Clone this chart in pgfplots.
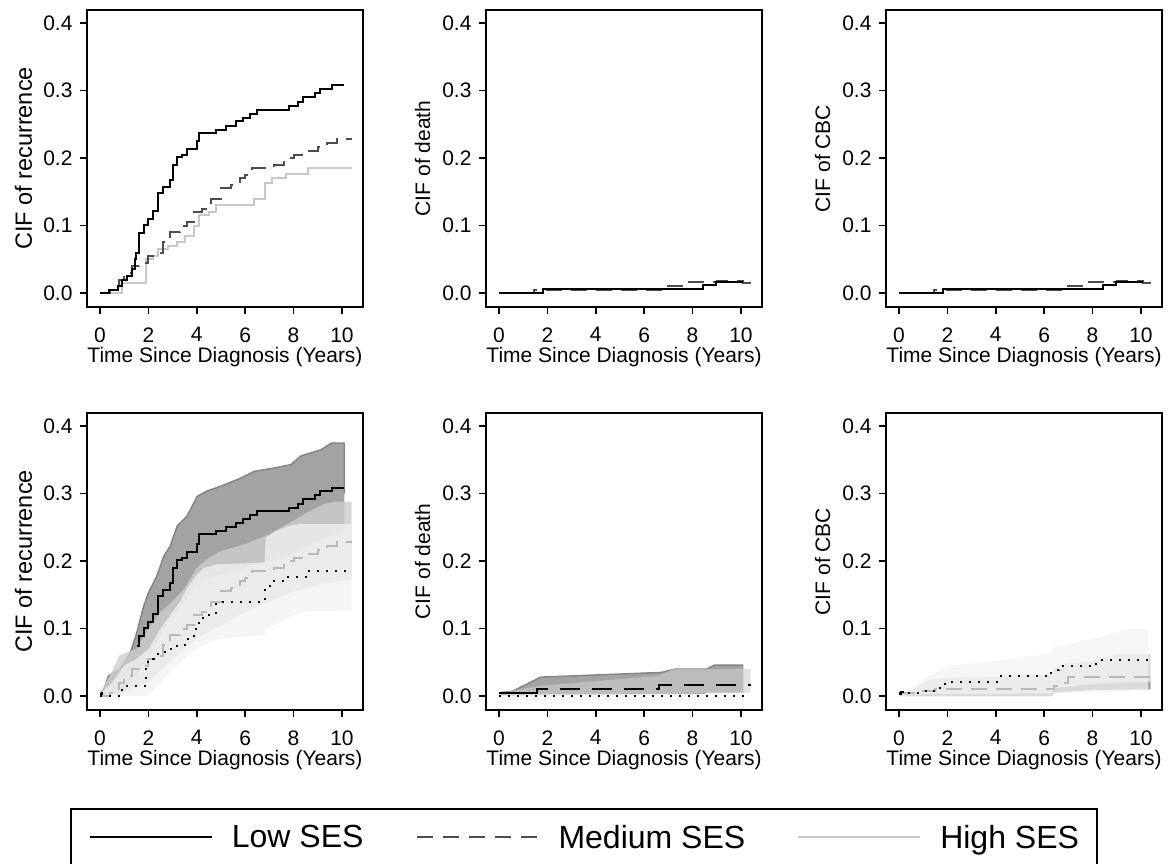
\documentclass[border=0pt]{standalone}
\usepackage{fontspec}
\setmainfont{Liberation Sans}
\usepackage{pgfplots}
\pgfplotsset{compat=1.18}
\definecolor{medgray}{HTML}{4D4D4D}
\definecolor{higray}{HTML}{C8C8C8}
\definecolor{lowband}{HTML}{A3A3A3}
\definecolor{lowedge}{HTML}{858585}
\definecolor{medband}{HTML}{CDCDCD}
\definecolor{hiband}{HTML}{F2F2F2}
\definecolor{medlinecol}{HTML}{B8B8B8}
\pgfplotsset{
  cif/.style={
    scale only axis, width=276pt, height=297pt,
    xmin=-0.54, xmax=10.87, ymin=-0.0207, ymax=0.4195,
    xtick={0,2,4,6,8,10}, ytick={0,0.1,0.2,0.3,0.4},
    /pgf/number format/assume math mode=true,
    yticklabel style={/pgf/number format/fixed,/pgf/number format/fixed zerofill,/pgf/number format/precision=1, xshift=-4pt},
    xticklabel style={yshift=-10pt},
    tick align=outside, xtick pos=left, ytick pos=left,
    major tick length=7pt,
    every tick/.style={line width=1.5pt, black},
    axis line style={line width=1.8pt, black},
    ticklabel style={font=\fontsize{21}{24}\selectfont},
    label style={font=\fontsize{21}{24}\selectfont},
    xlabel={Time Since Diagnosis (Years)},
    xlabel style={at={(axis description cs:0.5,-0.186)}, anchor=base},
    ylabel style={at={(axis description cs:-0.23,0.5)}, anchor=center},
    every axis plot/.append style={line width=2pt},
    axis on top,
  },
  biglabel/.style={ylabel style={font=\fontsize{23.5}{27}\selectfont}},
  lowline/.style={black, const plot, mark=none},
  medline/.style={medgray, const plot, mark=none, dash pattern=on 16pt off 9pt},
  hiline/.style={higray, const plot, mark=none},
  band/.style={draw=none, fill=#1, mark=none, forget plot},
}
\begin{document}
\begin{tikzpicture}
\useasboundingbox (0,0) rectangle (1175pt,-863pt);
% ---------------- Top left: recurrence
\begin{axis}[cif, biglabel, at={(87pt,-10pt)}, anchor=north west, ylabel={CIF of recurrence}]
\addplot[hiline] coordinates {(0,0)(0.9,0.015)(1.9,0.05)(2.2,0.055)(2.4,0.065)(2.8,0.07)(3.2,0.075)(3.5,0.085)(3.9,0.099)(4.1,0.115)(4.5,0.12)(4.8,0.131)(6.37,0.14)(6.8,0.163)(7.1,0.17)(7.7,0.176)(8.6,0.185)(10.4,0.185)};
\addplot[medline] coordinates {(0,0)(0.4,0.005)(0.6,0.01)(0.8,0.02)(1.0,0.03)(1.3,0.04)(1.6,0.044)(2.0,0.055)(2.3,0.06)(2.6,0.075)(2.9,0.09)(3.3,0.1)(3.6,0.105)(3.9,0.12)(4.2,0.125)(4.6,0.14)(5.0,0.155)(5.4,0.16)(5.8,0.17)(6.0,0.175)(6.3,0.185)(7.2,0.19)(7.6,0.2)(8.0,0.205)(8.6,0.21)(9.0,0.217)(9.4,0.222)(9.8,0.228)(10.4,0.228)};
\addplot[lowline] coordinates {(0,0)(0.35,0.005)(0.76,0.01)(0.9,0.02)(1.1,0.025)(1.3,0.035)(1.45,0.05)(1.5,0.06)(1.6,0.089)(1.8,0.101)(2.0,0.11)(2.2,0.121)(2.4,0.148)(2.6,0.157)(2.9,0.168)(3.0,0.19)(3.2,0.202)(3.4,0.205)(3.6,0.213)(4.0,0.225)(4.1,0.237)(4.8,0.242)(5.2,0.248)(5.6,0.255)(5.9,0.26)(6.2,0.265)(6.5,0.272)(7.8,0.277)(8.2,0.283)(8.4,0.29)(8.9,0.296)(9.1,0.302)(9.6,0.308)(10.1,0.308)};
\end{axis}
% ---------------- Top middle: death
\begin{axis}[cif, at={(486pt,-10pt)}, anchor=north west, ylabel={CIF of death}]
\addplot[medline] coordinates {(0,0)(1.45,0.005)(6.75,0.011)(7.7,0.016)(9.0,0.018)(10.1,0.015)(10.4,0.015)};
\addplot[lowline] coordinates {(0,0)(1.8,0.006)(8.45,0.012)(8.96,0.017)(10.1,0.017)};
\end{axis}
% ---------------- Top right: CBC
\begin{axis}[cif, at={(886pt,-10pt)}, anchor=north west, ylabel={CIF of CBC}]
\addplot[medline] coordinates {(0,0)(1.45,0.005)(6.75,0.011)(7.7,0.016)(9.0,0.018)(10.1,0.015)(10.4,0.015)};
\addplot[lowline] coordinates {(0,0)(1.8,0.006)(8.45,0.012)(8.96,0.017)(10.1,0.017)};
\end{axis}
% ---------------- Bottom left: recurrence with CI
\begin{axis}[cif, biglabel, at={(87pt,-413pt)}, anchor=north west, ylabel={CIF of recurrence}]
\addplot[band=lowband] coordinates {(0,0.005)(0.14,0.008)(0.35,0.03)(0.83,0.04)(1.25,0.064)(1.52,0.094)(1.8,0.133)(2.0,0.153)(2.35,0.178)(2.63,0.207)(2.9,0.222)(3.19,0.252)(3.6,0.267)(4.02,0.296)(4.43,0.304)(4.99,0.311)(5.82,0.323)(6.37,0.333)(7.2,0.338)(7.89,0.343)(8.31,0.356)(9.14,0.365)(9.56,0.375)(10.1,0.375)(10.1,0.245)(9,0.23)(8,0.21)(7,0.2)(6,0.19)(5,0.18)(4,0.17)(3.5,0.14)(3,0.12)(2.5,0.09)(2,0.06)(1.5,0.03)(1,0.005)(0,0.0)} -- cycle;
\addplot[lowedge, line width=1.5pt, mark=none, forget plot] coordinates {(0,0.005)(0.14,0.008)(0.35,0.03)(0.83,0.04)(1.25,0.064)(1.52,0.094)(1.8,0.133)(2.0,0.153)(2.35,0.178)(2.63,0.207)(2.9,0.222)(3.19,0.252)(3.6,0.267)(4.02,0.296)(4.43,0.304)(4.99,0.311)(5.82,0.323)(6.37,0.333)(7.2,0.338)(7.89,0.343)(8.31,0.356)(9.14,0.365)(9.56,0.375)(10.1,0.375)(10.1,0.3)};
\addplot[band=medband, fill opacity=0.8] coordinates {(0,0.005)(0.4,0.03)(0.8,0.06)(1.5,0.07)(2.0,0.1)(2.5,0.125)(3.0,0.14)(3.5,0.16)(4.0,0.19)(4.5,0.205)(5.0,0.215)(6.0,0.225)(7.0,0.24)(7.5,0.25)(8.0,0.26)(8.7,0.275)(9.3,0.285)(9.7,0.288)(10.4,0.288)(10.4,0.173)(9,0.165)(8,0.155)(7,0.14)(6,0.125)(5,0.105)(4,0.085)(3,0.055)(2,0.02)(1,0.005)(0,0.0)} -- cycle;
\addplot[band=hiband, fill opacity=0.75] coordinates {(0,0.003)(0.5,0.02)(1,0.045)(1.5,0.055)(2,0.07)(2.5,0.1)(3,0.125)(3.3,0.14)(3.6,0.16)(4.0,0.18)(4.3,0.19)(4.8,0.195)(6.8,0.198)(6.85,0.235)(7.3,0.245)(7.8,0.252)(8.3,0.255)(10.4,0.255)(10.4,0.127)(8.5,0.125)(8,0.12)(7.5,0.11)(6.85,0.1)(6.8,0.09)(6,0.088)(5,0.085)(4.5,0.08)(4,0.07)(3.5,0.055)(3,0.04)(2.5,0.02)(2,0.0)(0,0.0)} -- cycle;
\addplot[lowline] coordinates {(1.52,0.074)(1.6,0.089)(1.8,0.101)(2.0,0.11)(2.2,0.121)(2.4,0.148)(2.6,0.157)(2.9,0.168)(3.0,0.19)(3.2,0.202)(3.4,0.205)(3.6,0.213)(4.0,0.225)(4.1,0.24)(4.8,0.244)(5.2,0.25)(5.6,0.256)(5.9,0.262)(6.2,0.268)(6.5,0.274)(7.8,0.279)(8.2,0.285)(8.4,0.292)(8.9,0.298)(9.1,0.304)(9.6,0.309)(10.1,0.309)};
\addplot[lowline] coordinates {(0,0.003)(0.08,0.005)(0.12,0.005)};
\addplot[color=medlinecol, const plot, mark=none, dash pattern=on 16pt off 9pt] coordinates {(0,0)(0.4,0.005)(0.6,0.01)(0.8,0.02)(1.0,0.03)(1.3,0.04)(1.6,0.044)(2.0,0.055)(2.3,0.06)(2.6,0.075)(2.9,0.09)(3.3,0.1)(3.6,0.105)(3.9,0.12)(4.2,0.125)(4.6,0.14)(5.0,0.155)(5.4,0.16)(5.8,0.17)(6.0,0.175)(6.3,0.185)(7.2,0.19)(7.6,0.2)(8.0,0.205)(8.6,0.21)(9.0,0.217)(9.4,0.222)(9.8,0.228)(10.4,0.228)};
\addplot[black, const plot, mark=none, dash pattern=on 2pt off 7pt] coordinates {(0,0)(0.9,0.015)(1.9,0.05)(2.2,0.055)(2.4,0.065)(2.8,0.07)(3.2,0.075)(3.5,0.085)(3.9,0.099)(4.1,0.115)(4.5,0.12)(4.8,0.14)(6.37,0.14)(6.8,0.163)(7.1,0.17)(7.7,0.176)(8.6,0.185)(10.4,0.185)};
\end{axis}
% ---------------- Bottom middle: death with CI
\begin{axis}[cif, at={(486pt,-413pt)}, anchor=north west, ylabel={CIF of death}]
\addplot[band=lowband] coordinates {(0,0.005)(0.55,0.007)(1.5,0.024)(1.7,0.028)(6.7,0.035)(7.3,0.04)(8.6,0.04)(8.9,0.046)(10.1,0.046)(10.1,0.005)(8.6,0.005)(8.5,0.003)(1.7,0.003)(0,0.002)} -- cycle;
\addplot[lowedge, line width=1.5pt, mark=none, forget plot] coordinates {(0,0.005)(0.55,0.007)(1.5,0.024)(1.7,0.028)(6.7,0.035)(7.3,0.04)(8.6,0.04)(8.9,0.046)(10.1,0.046)};
\addplot[band=medband, fill opacity=0.6] coordinates {(0,0.004)(1.6,0.015)(6.6,0.03)(7.2,0.04)(10.4,0.04)(10.4,0.005)(6.6,0.003)(0,0.0)} -- cycle;
\addplot[black, const plot, mark=none, dash pattern=on 2pt off 7pt] coordinates {(0,0)(10.3,0)};
\addplot[black, const plot, mark=none, dash pattern=on 20pt off 12pt] coordinates {(0,0.005)(1.55,0.01)(6.6,0.016)(10.4,0.016)};
\addplot[lowline] coordinates {(0,0.005)(1.55,0.01)(1.75,0.01)};
\end{axis}
% ---------------- Bottom right: CBC with CI
\begin{axis}[cif, at={(886pt,-413pt)}, anchor=north west, ylabel={CIF of CBC}]
\addplot[band=lowband] coordinates {(0,0.003)(6.3,0.004)(6.4,0.012)(8,0.018)(9,0.021)(10.4,0.022)(10.4,0.01)(8,0.009)(6.4,0.005)(6.3,0)(0,0)} -- cycle;
\addplot[band=medband, fill opacity=0.7] coordinates {(0,0.003)(0.5,0.008)(1.3,0.025)(2,0.027)(4,0.029)(6.3,0.032)(6.4,0.04)(6.7,0.047)(8,0.052)(9,0.062)(10.4,0.062)(10.4,0.02)(6.4,0.015)(6.3,0.005)(1.3,0.003)(0,0)} -- cycle;
\addplot[band=hiband, fill opacity=0.7] coordinates {(0,0.003)(0.5,0.012)(1,0.025)(1.5,0.035)(2,0.045)(3,0.048)(4,0.052)(5,0.057)(6.3,0.063)(6.35,0.073)(7,0.077)(8,0.085)(9,0.094)(9.6,0.1)(10.3,0.1)(10.3,0.008)(6.35,0.003)(6.3,0)(0,0)} -- cycle;
\addplot[color=medlinecol, const plot, mark=none, dash pattern=on 16pt off 9pt] coordinates {(0,0.005)(1.0,0.008)(1.5,0.01)(6.4,0.015)(6.8,0.02)(7.0,0.028)(10.4,0.028)};
\addplot[black, const plot, mark=none, dash pattern=on 2pt off 7pt] coordinates {(0,0.005)(1.1,0.008)(1.5,0.012)(1.9,0.021)(4.2,0.029)(6.3,0.038)(6.6,0.044)(8.0,0.048)(8.3,0.053)(10.3,0.053)};
\addplot[lowline] coordinates {(0,0.003)(0.1,0.006)(0.2,0.006)};
\end{axis}
% ---------------- Legend
\begin{axis}[hide axis, scale only axis, width=10pt, height=10pt, xmin=0, xmax=1, ymin=0, ymax=1,
  at={(70pt,-808pt)}, anchor=north west,
  legend image code/.code={\draw[#1] (0pt,0pt) -- (122pt,0pt);},
  legend columns=3,
  legend style={at={(0,1)}, anchor=north west, draw=black, line width=1.8pt,
    font=\fontsize{32}{38}\selectfont, inner xsep=18pt, inner ysep=16pt,
    nodes={inner sep=0pt, anchor=west},
    /tikz/every odd column/.append style={column sep=19pt},
    /tikz/every even column/.append style={column sep=52pt}}]
\addlegendimage{black, line width=2pt}
\addlegendentry{Low SES}
\addlegendimage{medgray, line width=2pt, dash pattern=on 16pt off 10pt}
\addlegendentry{Medium SES}
\addlegendimage{higray, line width=2pt}
\addlegendentry{High SES}
\end{axis}
\end{tikzpicture}
\end{document}
